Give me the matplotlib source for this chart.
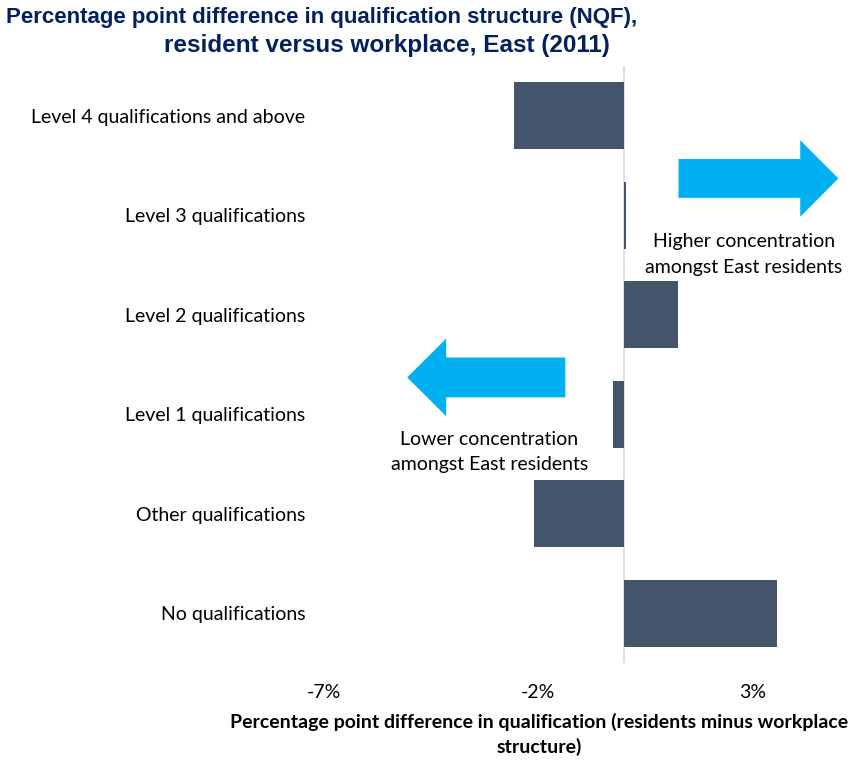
import matplotlib.pyplot as plt
from matplotlib.patches import FancyArrow
from matplotlib.ticker import FuncFormatter

categories = ['Level 4 qualifications and above', 'Level 3 qualifications',
              'Level 2 qualifications', 'Level 1 qualifications',
              'Other qualifications', 'No qualifications']
diff_pct = [-2.57, 0.05, 1.26, -0.25, -2.11, 3.57]
xticks = [-7, -2, 3]

bar_color = '#44546A'
arrow_color = '#00B0F0'
title_color = '#002060'
body_font = ['Lato', 'DejaVu Sans']

fig = plt.figure(figsize=(8.65, 7.64), dpi=100)
ax = fig.add_axes([0.3746, 0.1322, 0.6194, 0.7814])

ypos = list(range(len(categories)))
ax.barh(ypos, diff_pct, height=0.67, color=bar_color, zorder=2)
ax.axvline(0, color='#D9D9D9', lw=1.2, zorder=1)

ax.set_xlim(-7, 5.5)
ax.set_ylim(5.5, -0.5)
ax.set_yticks(ypos)
ax.set_yticklabels(categories, family=body_font, fontsize=14)
ax.set_xticks(xticks)
ax.xaxis.set_major_formatter(FuncFormatter(lambda v, p: f'{v:.0f}%'))
for lab in ax.get_xticklabels():
    lab.set_family(body_font)
    lab.set_fontsize(14)
ax.tick_params(axis='y', length=0, pad=13.5)
ax.tick_params(axis='x', length=0, pad=15)
for s in ax.spines.values():
    s.set_visible(False)

# direction arrows
ax.add_patch(FancyArrow(1.27, 0.63, 3.73, 0, width=0.39, head_width=0.77,
                        head_length=0.89, length_includes_head=True,
                        color=arrow_color, lw=0, zorder=3, clip_on=False))
ax.add_patch(FancyArrow(-1.37, 2.63, -3.69, 0, width=0.40, head_width=0.78,
                        head_length=0.91, length_includes_head=True,
                        color=arrow_color, lw=0, zorder=3, clip_on=False))
ax.text(2.79, 1.39, 'Higher concentration\namongst East residents',
        ha='center', va='center', family=body_font, fontsize=14,
        linespacing=1.65)
ax.text(-3.14, 3.38, 'Lower concentration\namongst East residents',
        ha='center', va='center', family=body_font, fontsize=14,
        linespacing=1.6)

ax.set_xlabel('Percentage point difference in qualification (residents minus workplace\nstructure)',
              family=body_font, fontsize=14, fontweight='bold',
              linespacing=1.5)
ax.xaxis.set_label_coords(0.401, -0.083)

fig.text(0.3723, 0.970, 'Percentage point difference in qualification structure (NQF),',
         ha='center', va='baseline', family='Liberation Sans',
         fontsize=16, fontweight='bold', color=title_color)
fig.text(0.4468, 0.932, 'resident versus workplace, East (2011)',
         ha='center', va='baseline', family='Liberation Sans', fontsize=17.5,
         fontweight='bold', color=title_color)

fig.savefig('out.png', dpi=100)
